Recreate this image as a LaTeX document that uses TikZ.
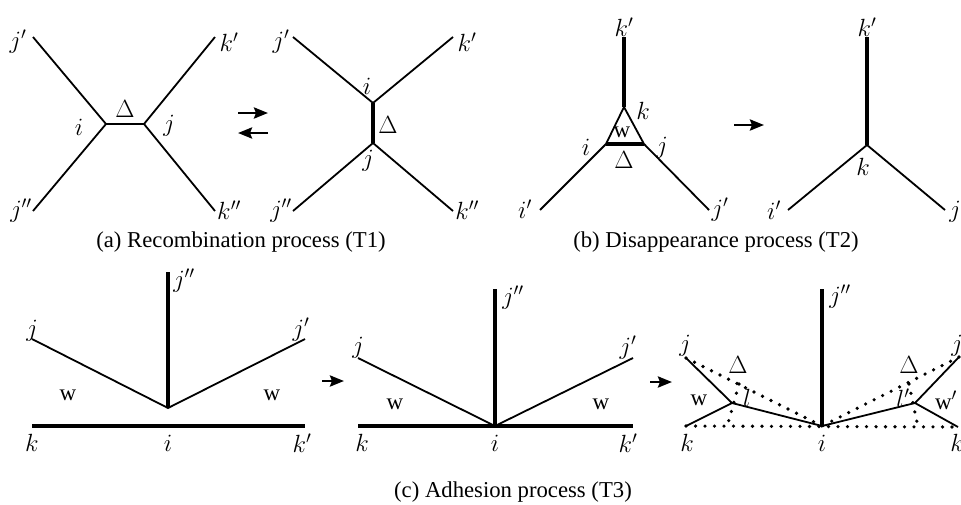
\documentclass[tikz,border=0pt]{standalone}
\usepackage{fontspec}
\setmainfont{Liberation Serif}
\usetikzlibrary{arrows.meta}
\begin{document}
\begin{tikzpicture}[x=1pt,y=-1pt,
  every node/.style={inner sep=0pt,font=\fontsize{23}{27}\selectfont},
  edge/.style={line width=1.8pt},
  thick edge/.style={line width=3.5pt},
  dotline/.style={line width=3.6pt,line cap=round,dash pattern=on 0pt off 9.5pt},
  proc/.style={line width=2.8pt,-{Stealth[length=14pt,width=11pt,inset=2pt]}},
  caption/.style={font=\fontsize{22.7}{26}\selectfont}]
\useasboundingbox (0,0) rectangle (961,504);

% ---------- (a) left ----------
\coordinate (a1i) at (106,124);
\coordinate (a1j) at (144,124);
\coordinate (a1e1) at (33,37);
\coordinate (a1e2) at (215,37);
\coordinate (a1e3) at (33,211);
\coordinate (a1e4) at (215,211);
\draw[edge] (a1e1) -- (a1i) -- (a1e3);
\draw[edge] (a1e2) -- (a1j) -- (a1e4);
\draw[edge] (a1i) -- (a1j);
\node (a1Ljp) at (18,42) {$j'$};
\node (a1Lkp) at (229,42) {$k'$};
\node (a1Ljpp) at (21,211) {$j''$};
\node (a1Lkpp) at (229,210) {$k''$};
\node (a1Li) at (79,127) {$i$};
\node (a1Lj) at (169,126) {$j$};
\node (a1LD) at (125,109) {$\Delta$};

% arrows
\coordinate (ar1s) at (238,113);
\coordinate (ar1e) at (268,113);
\coordinate (ar2s) at (268,133);
\coordinate (ar2e) at (238,133);
\draw[proc] (ar1s) -- (ar1e);
\draw[proc] (ar2s) -- (ar2e);

% ---------- (a) right ----------
\coordinate (a2i) at (373,103);
\coordinate (a2j) at (373,143);
\coordinate (a2e1) at (293,37);
\coordinate (a2e2) at (453,37);
\coordinate (a2e3) at (293,211);
\coordinate (a2e4) at (453,211);
\draw[edge] (a2e1) -- (a2i) -- (a2e2);
\draw[edge] (a2e3) -- (a2j) -- (a2e4);
\draw[thick edge] (a2i) -- (a2j);
\node (a2Ljp) at (281,42) {$j'$};
\node (a2Lkp) at (467,42) {$k'$};
\node (a2Ljpp) at (281,211) {$j''$};
\node (a2Lkpp) at (467,210) {$k''$};
\node (a2Li) at (367,86) {$i$};
\node (a2Lj) at (368,161) {$j$};
\node (a2LD) at (388,125) {$\Delta$};

\node[caption] (capa) at (241,242) {(a) Recombination process (T1)};

% ---------- (b) left ----------
\coordinate (b1k) at (624,107);
\coordinate (b1i) at (606,144);
\coordinate (b1j) at (644,144);
\coordinate (b1top) at (624,37);
\coordinate (b1e1) at (540,210);
\coordinate (b1e2) at (709,210);
\draw[thick edge] (b1top) -- (b1k);
\draw[edge] (b1i) -- (b1k) -- (b1j);
\draw[thick edge] (b1i) -- (b1j);
\draw[edge] (b1i) -- (b1e1);
\draw[edge] (b1j) -- (b1e2);
\node (b1Lkp) at (624,27) {$k'$};
\node (b1Lk) at (643,111) {$k$};
\node (b1Lw) at (622,132) {w};
\node (b1LD) at (624,160) {$\Delta$};
\node (b1Li) at (586,147) {$i$};
\node (b1Lj) at (662,148) {$j$};
\node (b1Lip) at (525,209) {$i'$};
\node (b1Ljp) at (720,210) {$j'$};

\coordinate (ar3s) at (734,125);
\coordinate (ar3e) at (764,125);
\draw[proc] (ar3s) -- (ar3e);

% ---------- (b) right ----------
\coordinate (b2k) at (867,145);
\coordinate (b2top) at (867,37);
\coordinate (b2e1) at (788,210);
\coordinate (b2e2) at (945,210);
\draw[thick edge] (b2top) -- (b2k);
\draw[edge] (b2e1) -- (b2k) -- (b2e2);
\node (b2Lkp) at (867,27) {$k'$};
\node (b2Lk) at (863,167) {$k$};
\node (b2Lip) at (774,210) {$i'$};
\node (b2Lj) at (955,212) {$j$};

\node[caption] (capb) at (716,242) {(b) Disappearance process (T2)};

% ---------- (c) left ----------
\coordinate (c1i) at (168,408);
\coordinate (c1top) at (168,272);
\coordinate (c1j) at (32,339);
\coordinate (c1jp) at (305,339);
\coordinate (c1k) at (32,426);
\coordinate (c1kp) at (305,426);
\draw[thick edge] (c1top) -- (c1i);
\draw[edge] (c1j) -- (c1i) -- (c1jp);
\draw[thick edge] (c1k) -- (c1kp);
\node (c1Ljpp) at (184,281) {$j''$};
\node (c1Lj) at (32,331) {$j$};
\node (c1Ljp) at (301,330) {$j'$};
\node (c1Lw1) at (68,395) {w};
\node (c1Lw2) at (272,395) {w};
\node (c1Lk) at (32,443) {$k$};
\node (c1Li) at (168,443) {$i$};
\node (c1Lkp) at (302,443) {$k'$};

\coordinate (ar4s) at (322,381);
\coordinate (ar4e) at (344,381);
\draw[proc] (ar4s) -- (ar4e);

% ---------- (c) middle ----------
\coordinate (c2i) at (495,426);
\coordinate (c2top) at (495,289);
\coordinate (c2j) at (358,358);
\coordinate (c2jp) at (633,358);
\coordinate (c2k) at (358,426);
\coordinate (c2kp) at (633,426);
\draw[thick edge] (c2top) -- (c2i);
\draw[edge] (c2j) -- (c2i) -- (c2jp);
\draw[thick edge] (c2k) -- (c2kp);
\node (c2Ljpp) at (513,298) {$j''$};
\node (c2Lj) at (358,348) {$j$};
\node (c2Ljp) at (628,348) {$j'$};
\node (c2Lw1) at (395,404) {w};
\node (c2Lw2) at (601,404) {w};
\node (c2Lk) at (362,443) {$k$};
\node (c2Li) at (495,443) {$i$};
\node (c2Lkp) at (628,443) {$k'$};

\coordinate (ar5s) at (650,382);
\coordinate (ar5e) at (672,382);
\draw[proc] (ar5s) -- (ar5e);

% ---------- (c) right ----------
\coordinate (c3i) at (822,426);
\coordinate (c3top) at (822,289);
\coordinate (c3j) at (686,358);
\coordinate (c3l) at (732,403);
\coordinate (c3k) at (686,426);
\coordinate (c3jp) at (959,357);
\coordinate (c3lp) at (915,403);
\coordinate (c3kp) at (958,427);
\coordinate (c3d1) at (739,384);
\coordinate (c3d1b) at (727,427);
\coordinate (c3d2) at (909,384);
\coordinate (c3d2b) at (918,427);
\draw[thick edge] (c3top) -- (c3i);
\draw[edge] (c3j) -- (c3l) -- (c3k);
\draw[edge] (c3l) -- (c3i) -- (c3lp);
\draw[edge] (c3jp) -- (c3lp) -- (c3kp);
\draw[dotline] (c3j) -- (c3i);
\draw[dotline] (c3jp) -- (c3i);
\draw[dotline] (c3k) -- (c3kp);
\draw[dotline] (c3d1) -- (c3d1b);
\draw[dotline] (c3d2) -- (c3d2b);
\node (c3Ljpp) at (840,297) {$j''$};
\node (c3Lj) at (685,346) {$j$};
\node (c3Ljp) at (957,346) {$j$};
\node (c3Lk) at (687,443) {$k$};
\node (c3Li) at (822,443) {$i$};
\node (c3Lkp) at (957,443) {$k$};
\node (c3LD1) at (738,365) {$\Delta$};
\node (c3LD2) at (909,365) {$\Delta$};
\node (c3Ll) at (747,398) {$l$};
\node (c3Llp) at (903,398) {$l'$};
\node (c3Lw) at (699,400) {w};
\node (c3Lwp) at (946,400) {w$'$};

\node[caption] (capc) at (513,492) {(c) Adhesion process (T3)};
\end{tikzpicture}
\end{document}
